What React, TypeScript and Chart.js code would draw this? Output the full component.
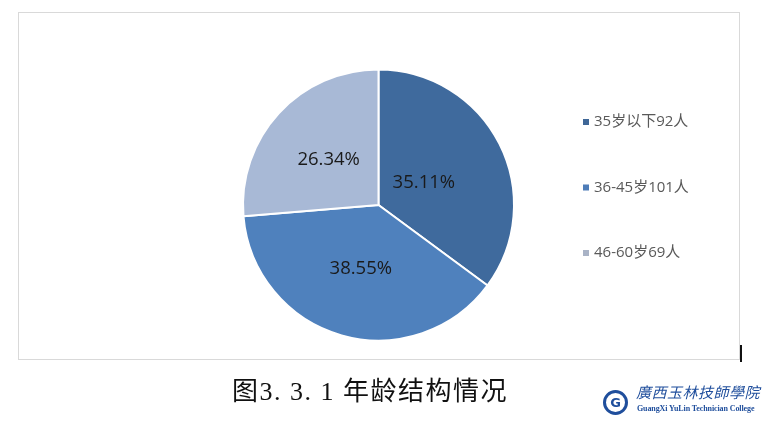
import React, { useEffect, useRef } from "react";
import { Chart, registerables } from "chart.js";

Chart.register(...registerables);

const categories: string[] = ["35岁以下92人", "36-45岁101人", "46-60岁69人"];
const counts: number[] = [92, 101, 69];
const percentLabels: string[] = ["35.11%", "38.55%", "26.34%"];
const sliceColors: string[] = ["#3F6A9D", "#4F81BD", "#A8B9D6"];
const legendColors: string[] = ["#3F6797", "#4E7DB8", "#A9B3C6"];
const titleText = "图3. 3. 1 年龄结构情况";

const labelRadiusFrac = [0.375, 0.48, 0.5];

const dataLabelPlugin = {
  id: "pctLabels",
  afterDatasetsDraw(chart: any) {
    const ctx = chart.ctx;
    const meta = chart.getDatasetMeta(0);
    ctx.save();
    ctx.font = '18.5px "Open Sans", "Liberation Sans", sans-serif';
    ctx.fillStyle = "#1A1A1A";
    ctx.textAlign = "center";
    ctx.textBaseline = "middle";
    meta.data.forEach((arc: any, i: number) => {
      const p = arc.getProps(["x", "y", "startAngle", "endAngle", "outerRadius"], true);
      const mid = (p.startAngle + p.endAngle) / 2;
      const r = p.outerRadius * labelRadiusFrac[i];
      ctx.fillText(percentLabels[i], p.x + Math.cos(mid) * r, p.y + Math.sin(mid) * r + 1);
    });
    ctx.restore();
  },
};

const legendPlugin = {
  id: "sideLegend",
  afterDraw(chart: any) {
    const ctx = chart.ctx;
    ctx.save();
    ctx.font = '15px "Open Sans", "Noto Sans CJK SC", sans-serif';
    ctx.textBaseline = "middle";
    const x0 = 583;
    const y0 = 122;
    const gap = 65.5;
    chart.data.labels.forEach((lab: string, i: number) => {
      const y = y0 + i * gap;
      ctx.fillStyle = legendColors[i];
      ctx.fillRect(x0, y - 3, 6, 6);
      ctx.fillStyle = "#595959";
      ctx.fillText(lab, x0 + 11, y);
    });
    ctx.restore();
  },
};

function PieChart() {
  const ref = useRef<HTMLCanvasElement | null>(null);
  useEffect(() => {
    if (!ref.current) return;
    const chart = new Chart(ref.current, {
      type: "pie",
      data: {
        labels: categories,
        datasets: [
          {
            data: counts,
            backgroundColor: sliceColors,
            borderColor: "#FFFFFF",
            borderWidth: 2,
          },
        ],
      },
      options: {
        responsive: true,
        maintainAspectRatio: false,
        animation: false,
        layout: { padding: { left: 242, right: 247, top: 68.5, bottom: 84.5 } },
        plugins: {
          legend: { display: false },
          tooltip: { enabled: false },
          title: { display: false },
        },
      },
      plugins: [dataLabelPlugin, legendPlugin],
    });
    return () => chart.destroy();
  }, []);
  return (
    <div style={{ position: "absolute", left: 0, top: 0, width: 762, height: 426 }}>
      <canvas ref={ref} />
    </div>
  );
}

export default function App() {
  return (
    <div
      style={{
        position: "absolute",
        left: 0,
        top: 0,
        width: 762,
        height: 426,
        background: "#FFFFFF",
        overflow: "hidden",
      }}
    >
      <div
        style={{
          position: "absolute",
          left: 18,
          top: 12,
          width: 722,
          height: 348,
          border: "1px solid #D9D9D9",
          boxSizing: "border-box",
        }}
      />
      <div
        style={{
          position: "absolute",
          left: 740,
          top: 345,
          width: 2,
          height: 17,
          background: "#111",
        }}
      />
      <PieChart />
      <div
        style={{
          position: "absolute",
          left: 120,
          width: 500,
          top: 377,
          textAlign: "center",
          fontFamily: '"Liberation Serif", "Noto Sans CJK SC", serif',
          fontSize: 26,
          letterSpacing: 1.5,
          lineHeight: "30px",
          color: "#111",
          whiteSpace: "pre",
        }}
      >
        {titleText}
      </div>
      <div
        style={{
          position: "absolute",
          left: 603,
          top: 390,
          width: 25,
          height: 25,
          borderRadius: "50%",
          border: "3px solid #1F4E9C",
          boxSizing: "border-box",
          display: "flex",
          alignItems: "center",
          justifyContent: "center",
          color: "#1F4E9C",
          fontFamily: '"DejaVu Sans", sans-serif',
          fontWeight: "bold",
          fontSize: 13,
        }}
      >
        G
      </div>
      <div
        style={{
          position: "absolute",
          left: 636,
          top: 383,
          width: 124,
          fontFamily: '"Noto Sans CJK TC", sans-serif',
          fontSize: 15,
          lineHeight: "18px",
          letterSpacing: 0.5,
          color: "#1F4E9C",
          fontStyle: "italic",
          whiteSpace: "nowrap",
        }}
      >
        廣西玉林技師學院
      </div>
      <div
        style={{
          position: "absolute",
          left: 637,
          top: 404,
          width: 124,
          fontFamily: '"Liberation Serif", serif',
          fontSize: 8,
          fontWeight: "bold",
          letterSpacing: -0.1,
          lineHeight: "10px",
          color: "#1F4E9C",
          whiteSpace: "nowrap",
        }}
      >
        GuangXi YuLin Technician College
      </div>
    </div>
  );
}
